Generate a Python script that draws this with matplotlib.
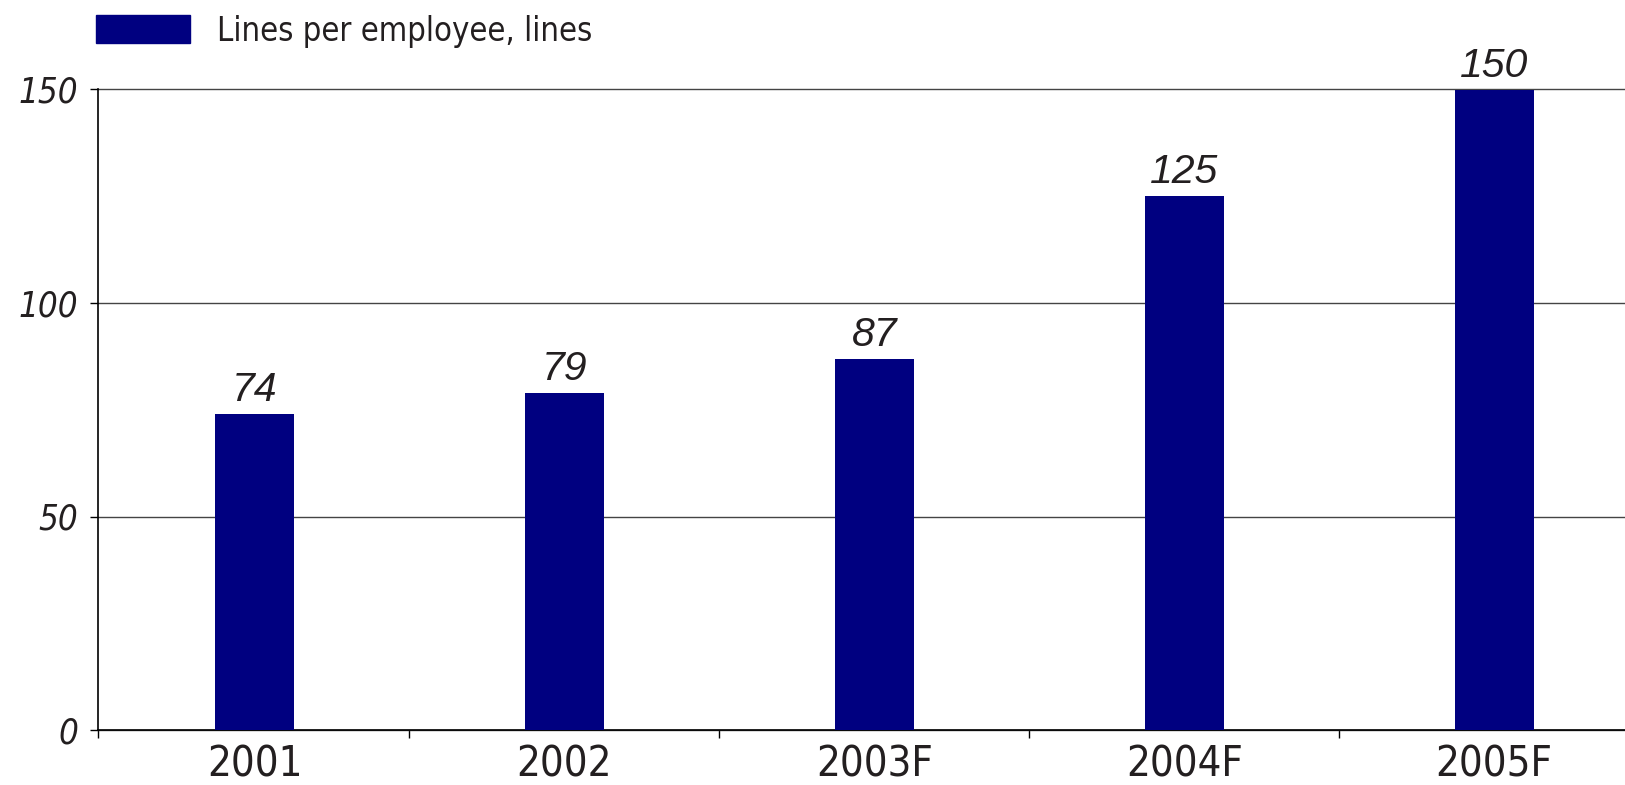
import matplotlib
matplotlib.use("Agg")
import matplotlib.pyplot as plt
from matplotlib import font_manager
from matplotlib.patches import Rectangle

categories = ["2001", "2002", "2003F", "2004F", "2005F"]
values = [74, 79, 87, 125, 150]
y_ticks = [0, 50, 100, 150]
legend_label = "Lines per employee, lines"

bar_color = "#000080"

names = {f.name for f in font_manager.fontManager.ttflist}
narrow = "Liberation Sans Narrow" if "Liberation Sans Narrow" in names else "DejaVu Sans"
cond_kw = {"family": narrow}
if narrow == "DejaVu Sans":
    cond_kw["stretch"] = "condensed"

fig = plt.figure(figsize=(16.25, 7.85), dpi=100)
ax = fig.add_axes([98 / 1625, 55 / 785, 1 - 98 / 1625, (730 - 89.5) / 785])

x = list(range(len(categories)))
ax.bar(x, values, width=0.255, color=bar_color, zorder=3)

ax.set_ylim(0, 150)
ax.set_xlim(-0.505, 4.422)
ax.set_yticks(y_ticks)
ax.set_yticklabels([str(t) for t in y_ticks], fontsize=25, style="italic",
                   color="#231f20", **cond_kw)
ax.yaxis.grid(True, color="#444444", linewidth=1.0, zorder=1)
for gl in ax.yaxis.get_gridlines():
    gl.set_clip_on(False)
ax.tick_params(axis="y", length=6, width=1, color="black", pad=8)

ax.set_xticks(x)
ax.set_xticklabels(categories, fontsize=30, color="#231f20", **cond_kw)
ax.tick_params(axis="x", length=0, pad=10)
ax.set_xticks([i + 0.5 for i in range(len(categories) - 1)] + [-0.505], minor=True)
ax.tick_params(axis="x", which="minor", length=6, width=1, color="black")

for s in ["top", "right"]:
    ax.spines[s].set_visible(False)
ax.spines["left"].set_linewidth(1.2)
ax.spines["bottom"].set_linewidth(1.2)

for xi, v in zip(x, values):
    ax.annotate(str(v), (xi, v), xytext=(0, 3.5), textcoords="offset points",
                ha="center", va="bottom", fontsize=29.5, style="italic",
                family="Liberation Sans", color="#231f20", zorder=4,
                annotation_clip=False)

# legend drawn in figure coordinates
fig.patches.append(Rectangle((96 / 1625, 1 - 42.5 / 785), 94 / 1625, 28 / 785,
                             transform=fig.transFigure, color=bar_color))
fig.text(217 / 1625, 1 - 31 / 785, legend_label, fontsize=23.5, va="center",
         ha="left", color="#231f20", **cond_kw)

fig.savefig("out.png", dpi=100)
